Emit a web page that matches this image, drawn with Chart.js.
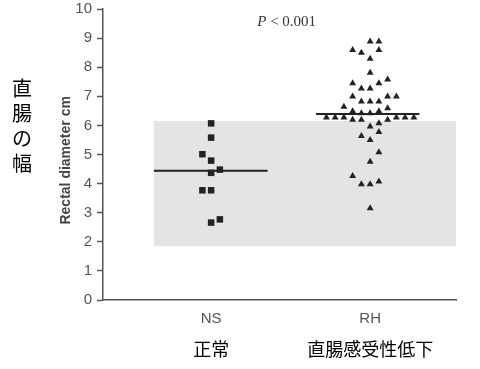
<!DOCTYPE html>
<html>
<head>
<meta charset="utf-8">
<script src="https://cdn.jsdelivr.net/npm/chart.js@4"></script>
<style>
    html, body { margin: 0; padding: 0; background: #fff; }
    #wrap { width: 480px; height: 369px; }
</style>
</head>
<body>
<div id="wrap"><canvas id="chart" width="480" height="369"></canvas></div>
<script>
// groups
const groupLabels = ['NS', 'RH'];
const groupLabelsJa = ['正常', '直腸感受性低下'];
const groupMeans = [4.44, 6.39];
const meanSpans = [[0.64, 1.355], [1.66, 2.31]];
const normalRange = [1.85, 6.15];   // grey band
const yLabelJa = ['直', '腸', 'の', '幅'];

// NS squares (value, column offset in the dot strip)
const nsValues = [6.07, 5.58, 5.01, 4.79, 4.48, 4.37, 3.77, 3.77, 2.66, 2.77];
const nsColumns = [0, 0, -1, 0, 1, 0, -1, 0, 0, 1];

// RH triangles
const rhValues = [8.88, 8.88, 8.59, 8.59, 8.50, 8.29, 7.81, 7.58, 7.45, 7.45,
    7.27, 7.27, 6.99, 6.99, 6.99, 6.82, 6.82, 6.82, 6.64, 6.59,
    6.49, 6.49, 6.42, 6.42, 6.27, 6.27, 6.27, 6.27, 6.27, 6.27,
    6.19, 6.19, 6.19, 6.07, 5.96, 5.77, 5.64, 5.50, 5.08, 4.75,
    4.26, 3.98, 3.98, 4.07, 3.15];
const rhColumns = [0, 1, -2, 1, -1, 0, 0, 2, 1, -2,
    -1, 0, -2, 2, 3, -1, 0, 1, -3, 2,
    -2, 1, -1, 0, -5, -4, -3, 3, 4, 5,
    -2, -1, 2, 1, 0, 1, -1, 0, 1, 0,
    -2, -1, 0, 1, 0];

const colStep = 0.055;
const xMin = 0.32, xMax = 2.54;

function strip(group, values, cols) {
    return values.map((v, i) => ({ x: group + cols[i] * colStep, y: v }));
}

const bandPlugin = {
    id: 'band',
    beforeDatasetsDraw(chart) {
        const { ctx, chartArea, scales: { x, y } } = chart;
        const left = x.getPixelForValue(meanSpans[0][0]);
        const top = y.getPixelForValue(normalRange[1]);
        const bottom = y.getPixelForValue(normalRange[0]);
        ctx.save();
        ctx.fillStyle = '#e4e4e4';
        ctx.fillRect(left, top, chartArea.right - left, bottom - top);
        ctx.restore();
    }
};

const textPlugin = {
    id: 'texts',
    afterDraw(chart) {
        const { ctx, scales: { x, y } } = chart;
        ctx.save();
        // P value
        const px = x.getPixelForValue(1.29);
        const py = y.getPixelForValue(9.42);
        ctx.fillStyle = '#333';
        ctx.textBaseline = 'alphabetic';
        ctx.textAlign = 'left';
        ctx.font = 'italic 15px "Liberation Serif"';
        ctx.fillText('P', px, py);
        const w = ctx.measureText('P').width;
        ctx.font = '15px "Liberation Serif"';
        ctx.fillText(' < 0.001', px + w, py);
        // vertical japanese label
        ctx.fillStyle = '#000';
        ctx.textAlign = 'center';
        ctx.textBaseline = 'middle';
        ctx.font = '20px "Noto Sans CJK JP"';
        yLabelJa.forEach((ch, i) => ctx.fillText(ch, 22, 88 + i * 25));
        ctx.restore();
    }
};

const ctx = document.getElementById('chart').getContext('2d');
const chart = new Chart(ctx, {
    type: 'scatter',
    data: {
        datasets: [
            {
                data: strip(1, nsValues, nsColumns),
                pointStyle: 'rect',
                pointRadius: 4.6,
                backgroundColor: '#222',
                borderColor: '#222',
                borderWidth: 0
            },
            {
                data: strip(2, rhValues, rhColumns),
                pointStyle: 'triangle',
                pointRadius: 4,
                backgroundColor: '#222',
                borderColor: '#222',
                borderWidth: 0
            },
            {
                type: 'line',
                data: meanSpans[0].map(v => ({ x: v, y: groupMeans[0] })),
                borderColor: '#222',
                borderWidth: 2,
                pointRadius: 0
            },
            {
                type: 'line',
                data: meanSpans[1].map(v => ({ x: v, y: groupMeans[1] })),
                borderColor: '#222',
                borderWidth: 2,
                pointRadius: 0
            }
        ]
    },
    options: {
        responsive: false,
        animation: false,
        layout: { padding: { left: 0, right: 24, top: 2, bottom: 0 } },
        plugins: {
            legend: { display: false },
            tooltip: { enabled: false }
        },
        scales: {
            x: {
                type: 'linear',
                position: 'bottom',
                weight: 0,
                min: xMin,
                max: xMax,
                afterBuildTicks: axis => { axis.ticks = [{ value: 1 }, { value: 2 }]; },
                afterFit: axis => { axis.height = 32; },
                grid: { display: false, drawTicks: false },
                border: { display: true, color: '#555', width: 1.5 },
                ticks: {
                    padding: 10,
                    color: '#555',
                    font: { family: '"Liberation Sans"', size: 15 },
                    callback: v => groupLabels[v - 1]
                }
            },
            x2: {
                type: 'linear',
                position: 'bottom',
                weight: 1,
                min: xMin,
                max: xMax,
                afterBuildTicks: axis => { axis.ticks = [{ value: 1 }, { value: 2 }]; },
                afterFit: axis => { axis.height = 37; },
                grid: { display: false, drawTicks: false },
                border: { display: false },
                ticks: {
                    padding: 6,
                    color: '#000',
                    font: { family: '"Noto Sans CJK JP"', size: 18 },
                    callback: v => groupLabelsJa[v - 1]
                }
            },
            y: {
                min: 0,
                max: 10,
                afterFit: axis => { axis.width = 103; axis.paddingTop = 9; },
                grid: {
                    drawOnChartArea: false,
                    drawTicks: true,
                    tickLength: 6,
                    tickWidth: 1.5,
                    color: '#555'
                },
                border: { display: true, color: '#555', width: 1.5 },
                ticks: {
                    stepSize: 1,
                    padding: 5,
                    color: '#555',
                    font: { family: '"Liberation Sans"', size: 15 }
                },
                title: {
                    display: true,
                    text: 'Rectal diameter cm   ',
                    color: '#444',
                    padding: { top: 58, bottom: 0 },
                    font: { family: '"Liberation Sans"', size: 14, weight: 'bold' }
                }
            }
        }
    },
    plugins: [bandPlugin, textPlugin]
});
</script>
</body>
</html>
